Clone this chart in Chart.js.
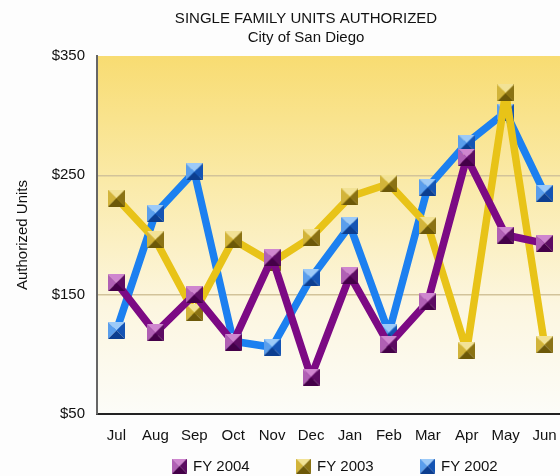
<!DOCTYPE html>
<html>
<head>
<meta charset="utf-8">
<script src="https://cdn.jsdelivr.net/npm/chart.js@4/dist/chart.umd.min.js"></script>
<style>
html,body{margin:0;padding:0;background:#fdfdfd;overflow:hidden;width:560px;height:476px;}
#wrap{width:612px;height:476px;}
</style>
</head>
<body>
<div id="wrap"><canvas id="c" width="612" height="476"></canvas></div>
<script>
const categories = ["Jul","Aug","Sep","Oct","Nov","Dec","Jan","Feb","Mar","Apr","May","Jun"];
const fy2004 = [160,118,150,110,181,81,166,108,144,265,200,193];
const fy2003 = [231,196,135,196,177,198,232,243,208,103,319,108];
const fy2002 = [120,218,253,111,106,164,208,118,240,277,303,235];
const yTicks = [50,150,250,350];

function marker(light, mid, dark, darkest){
  const s = 17;
  const c = document.createElement('canvas');
  c.width = s; c.height = s;
  const g = c.getContext('2d');
  const m = s/2;
  const tri = (pts, col) => { g.beginPath(); g.moveTo(pts[0],pts[1]); g.lineTo(pts[2],pts[3]); g.lineTo(pts[4],pts[5]); g.closePath(); g.fillStyle = col; g.fill(); };
  tri([0,0,s,0,m,m], light);
  tri([0,0,0,s,m,m], mid);
  tri([s,0,s,s,m,m], dark);
  tri([0,s,s,s,m,m], darkest);
  return c;
}
const mPurple = marker('#cf86cf','#b060b4','#5c0c62','#440048');
const mGold = marker('#f2e296','#d2b43a','#8a7214','#6c5808');
const mBlue = marker('#9ccaf8','#5a9eec','#1454b4','#0c3e90');

const FONT = '"Liberation Sans", Arial, sans-serif';
const font = {family:FONT, size:15};

const bgPlugin = {
  id:'bg',
  beforeDraw(chart){
    const {ctx, chartArea:a} = chart;
    const gr = ctx.createLinearGradient(0,a.top,0,a.bottom);
    gr.addColorStop(0,'#f8dc72');
    gr.addColorStop(0.35,'#faeaa8');
    gr.addColorStop(0.7,'#fcf6e0');
    gr.addColorStop(1,'#fcfcf8');
    ctx.save();
    ctx.fillStyle = gr;
    ctx.fillRect(a.left,a.top,a.right-a.left,a.bottom-a.top);
    ctx.restore();
  }
};

const legendPlugin = {
  id:'customLegend',
  afterDraw(chart){
    const ctx = chart.ctx;
    ctx.save();
    ctx.font = '15px ' + FONT;
    ctx.fillStyle = '#111';
    ctx.textBaseline = 'middle';
    ctx.textAlign = 'left';
    chart.data.datasets.forEach((ds,i)=>{
      const x0 = 172 + i*124;
      const yc = 466;
      ctx.drawImage(ds.pointStyle, x0, yc-7.5, 15, 15);
      ctx.fillText(ds.label, x0+21, yc+1);
    });
    ctx.restore();
  }
};

new Chart(document.getElementById('c'), {
  type:'line',
  data:{
    labels:categories,
    datasets:[
      {label:'FY 2004', data:fy2004, borderColor:'#7c0a84', backgroundColor:'#7c0a84', borderWidth:7.5, borderJoinStyle:'round', pointStyle:mPurple, tension:0},
      {label:'FY 2003', data:fy2003, borderColor:'#e8c318', backgroundColor:'#e8c318', borderWidth:7.5, borderJoinStyle:'round', pointStyle:mGold, tension:0},
      {label:'FY 2002', data:fy2002, borderColor:'#1c80f0', backgroundColor:'#1c80f0', borderWidth:7.5, borderJoinStyle:'round', pointStyle:mBlue, tension:0}
    ]
  },
  options:{
    responsive:false,
    animation:false,
    layout:{padding:{left:0,right:0,top:0,bottom:0}},
    plugins:{
      title:{display:true, text:'SINGLE FAMILY UNITS AUTHORIZED', color:'#111', font:{...font, weight:'normal'}, padding:{top:10,bottom:1}},
      subtitle:{display:true, text:'City of San Diego', color:'#111', font:{...font}, padding:{top:0,bottom:9}},
      legend:{display:false},
      tooltip:{enabled:false}
    },
    scales:{
      x:{
        offset:true,
        afterFit(scale){ scale.height = 62; scale.paddingLeft = 0; scale.paddingRight = 0; },
        grid:{display:false, drawTicks:false},
        border:{display:true, color:'#222', width:2},
        ticks:{color:'#111', font:{...font}, padding:13}
      },
      y:{
        min:50, max:350,
        afterBuildTicks(scale){ scale.ticks = yTicks.map(v=>({value:v})); },
        afterFit(scale){ scale.width = 97; },
        grid:{color:(ctx)=> (ctx.tick && (ctx.tick.value===150||ctx.tick.value===250)) ? '#d2c39a' : 'rgba(0,0,0,0)', drawTicks:false, lineWidth:1.5},
        border:{display:true, color:'#666', width:2},
        ticks:{color:'#111', font:{...font}, padding:12, callback:(v)=>'$'+v},
        title:{display:true, text:'Authorized Units', color:'#111', font:{...font}, padding:{top:14,bottom:0}}
      },
      yr:{
        position:'right',
        afterFit(scale){ scale.width = 48; },
        grid:{display:false, drawTicks:false},
        border:{display:false},
        ticks:{display:false}
      }
    }
  },
  plugins:[bgPlugin, legendPlugin]
});
</script>
</body>
</html>
